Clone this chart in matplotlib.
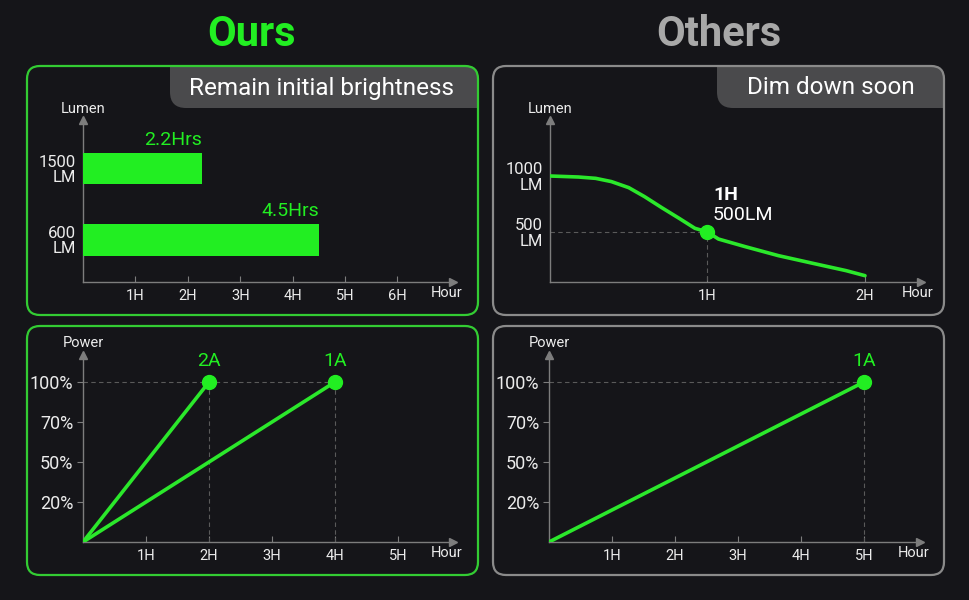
import matplotlib
matplotlib.use("Agg")
import matplotlib.pyplot as plt
import numpy as np
from matplotlib.patches import FancyBboxPatch

plt.rcParams['font.family'] = ['Roboto', 'DejaVu Sans']

# ---------------- data ----------------
titles = ['Ours', 'Others']
tab_texts = ['Remain initial brightness', 'Dim down soon']

bar_levels = ['600\nLM', '1500\nLM']
bar_hours = [4.5, 2.27]
bar_labels = ['4.5Hrs', '2.2Hrs']
tl_xticks = [1, 2, 3, 4, 5, 6]
tl_xticklabels = ['1H', '2H', '3H', '4H', '5H', '6H']

dim_hours = [0, 0.18, 0.29, 0.39, 0.50, 0.60, 0.71, 0.82, 0.92, 1.0,
             1.07, 1.24, 1.45, 1.67, 1.88, 2.0]
dim_lumens = [1000, 991, 979, 950, 896, 816, 717, 622, 533, 500,
              437, 369, 289, 220, 155, 110]
dim_yticks = [500, 1000]
dim_yticklabels = ['500\nLM', '1000\nLM']
dim_xticks = [1, 2]
dim_xticklabels = ['1H', '2H']
dim_point_hour = 1
dim_point_lumen = 500
dim_point_label = ['1H', '500LM']

power_ticks = [20, 50, 70, 100]
power_ticklabels = ['20%', '50%', '70%', '100%']
pw_xticks = [1, 2, 3, 4, 5]
pw_xticklabels = ['1H', '2H', '3H', '4H', '5H']
ours_currents = ['2A', '1A']
ours_full_hours = [2, 4]
others_currents = ['1A']
others_full_hours = [5]

# ---------------- style ----------------
BG = '#151519'
GREEN = '#22ee22'
LINE_GREEN = '#2be82b'
BORDER_GREEN = '#33cc33'
BORDER_GRAY = '#8a8a8a'
TAB = '#4a4a4c'
AX = '#7d7d7d'
TXT = '#ececec'
DASH = '#5a5a5a'

W, H = 970, 600
fig = plt.figure(figsize=(W / 100, H / 100), dpi=100, facecolor=BG)

bg = fig.add_axes([0, 0, 1, 1])
bg.set_xlim(0, W)
bg.set_ylim(H, 0)
bg.axis('off')
bg.set_zorder(0)

# titles
bg.text(252, 35, titles[0], color=GREEN, fontsize=30, fontweight='bold',
        ha='center', va='center')
bg.text(719, 35, titles[1], color='#a8a8a8', fontsize=30, fontweight='bold',
        ha='center', va='center')

panels = [
    (27, 66, 478, 315, BORDER_GREEN),
    (493, 66, 944, 315, BORDER_GRAY),
    (27, 326, 478, 575, BORDER_GREEN),
    (493, 326, 944, 575, BORDER_GRAY),
]
panel_patches = []
for (x0, y0, x1, y1, col) in panels:
    fill = FancyBboxPatch((x0, y0), x1 - x0, y1 - y0,
                          boxstyle='round,pad=0,rounding_size=13',
                          facecolor=BG, edgecolor='none', zorder=1)
    bg.add_patch(fill)
    panel_patches.append(fill)

# tabs
tabs = [(170, 0, tab_texts[0], 322), (717, 1, tab_texts[1], 831)]
for (tx0, pi, txt, cx) in tabs:
    x0, y0, x1, y1, col = panels[pi]
    tab = FancyBboxPatch((tx0, y0 - 30), x1 - tx0 + 30, 108 - (y0 - 30),
                         boxstyle='round,pad=0,rounding_size=16',
                         facecolor=TAB, edgecolor='none', zorder=2)
    bg.add_patch(tab)
    tab.set_clip_path(panel_patches[pi])
    bg.text(cx, 88, txt, color='white', fontsize=17.5, ha='center', va='center', zorder=3)

for (x0, y0, x1, y1, col) in panels:
    border = FancyBboxPatch((x0, y0), x1 - x0, y1 - y0,
                            boxstyle='round,pad=0,rounding_size=13',
                            facecolor='none', edgecolor=col, linewidth=1.6, zorder=4)
    bg.add_patch(border)


def add_ax(left, top, right, bottom):
    a = fig.add_axes([left / W, 1 - bottom / H, (right - left) / W, (bottom - top) / H])
    a.set_facecolor('none')
    a.set_zorder(5)
    for s in ['top', 'right']:
        a.spines[s].set_visible(False)
    for s in ['left', 'bottom']:
        a.spines[s].set_color(AX)
        a.spines[s].set_linewidth(1.0)
    a.plot(1, 0, marker='>', color=AX, ms=6, transform=a.transAxes, clip_on=False)
    a.plot(0, 1, marker='^', color=AX, ms=6, transform=a.transAxes, clip_on=False)
    a.tick_params(axis='x', direction='in', length=4, color=AX, labelcolor=TXT,
                  labelsize=10.5, pad=5)
    return a


# ---------- top-left: bars ----------
ax1 = add_ax(83, 120, 453, 282)
ax1.set_xlim(0, (453 - 83) / 52.4)
ax1.set_ylim(-0.589, 1.681)
ax1.barh([0, 1], bar_hours, height=0.44, color=GREEN, zorder=3)
ax1.set_xticks(tl_xticks)
ax1.set_xticklabels(tl_xticklabels)
ax1.set_yticks([0, 1])
ax1.set_yticklabels(bar_levels, fontsize=12, color=TXT, linespacing=1.0)
ax1.tick_params(axis='y', length=0, pad=5)
for i, (v, lab) in enumerate(zip(bar_hours, bar_labels)):
    ax1.annotate(lab, (v, i + 0.22), xytext=(0, 3), textcoords='offset points',
                 ha='right', va='bottom', color=GREEN, fontsize=14)
bg.text(83, 109, 'Lumen', color=TXT, fontsize=10.5, ha='center', va='center', zorder=6)
bg.text(447, 293, 'Hour', color=TXT, fontsize=10.5, ha='center', va='center', zorder=6)

# ---------- top-right: dimming curve ----------
ax2 = add_ax(550, 120, 921, 282)
ax2.set_xlim(0, (921 - 550) / 157.5)
lpp = 500 / 56.0
ax2.set_ylim((288 - 282) * lpp, (288 - 120) * lpp)
ax2.plot(dim_hours, dim_lumens, color=LINE_GREEN, lw=2.6, solid_capstyle='round',
         solid_joinstyle='round', zorder=3)
ax2.plot([0, dim_point_hour], [dim_point_lumen, dim_point_lumen], ls=(0, (4, 3)),
         color=DASH, lw=0.8, zorder=2)
ax2.plot([dim_point_hour, dim_point_hour], [0, dim_point_lumen], ls=(0, (4, 3)),
         color=DASH, lw=0.8, zorder=2)
ax2.plot([dim_point_hour], [dim_point_lumen], 'o', color=GREEN, ms=10, zorder=4)
ax2.text(1.035, 830, dim_point_label[0], color='white', fontsize=14, fontweight='bold',
         ha='left', va='center')
ax2.text(1.035, 652, dim_point_label[1], color='white', fontsize=14,
         ha='left', va='center')
ax2.set_xticks(dim_xticks)
ax2.set_xticklabels(dim_xticklabels)
ax2.set_yticks(dim_yticks)
ax2.set_yticklabels(dim_yticklabels, fontsize=12, color=TXT, linespacing=1.0)
ax2.tick_params(axis='y', length=0, pad=5)
bg.text(550, 109, 'Lumen', color=TXT, fontsize=10.5, ha='center', va='center', zorder=6)
bg.text(918, 293, 'Hour', color=TXT, fontsize=10.5, ha='center', va='center', zorder=6)

# power scale: evenly spaced tick levels
_pp = np.array([0, 20, 50, 70, 100, 130])
_pos = np.array([0, 1, 2, 3, 4, 5])


def fwd(v):
    return np.interp(v, _pp, _pos)


def inv(p):
    return np.interp(p, _pos, _pp)


def power_ax(left, right, currents, hours):
    a = add_ax(left, 355, right, 542)
    a.set_xlim(0, (right - left) / 63.0)
    a.set_yscale('function', functions=(fwd, inv))
    a.set_ylim(0, inv((542 - 355) / 40.0))
    a.plot([0, max(hours)], [100, 100], ls=(0, (4, 3)), color=DASH, lw=0.8, zorder=2)
    for c, h in zip(currents, hours):
        a.plot([h, h], [0, 100], ls=(0, (4, 3)), color=DASH, lw=0.8, zorder=2)
        a.plot([0, h], [0, 100], color=LINE_GREEN, lw=2.6, solid_capstyle='round', zorder=3)
        a.plot([h], [100], 'o', color=GREEN, ms=10, zorder=4)
        a.annotate(c, (h, 100), xytext=(0, 9), textcoords='offset points',
                   ha='center', va='bottom', color=GREEN, fontsize=14)
    a.set_xticks(pw_xticks)
    a.set_xticklabels(pw_xticklabels)
    a.set_yticks(power_ticks)
    a.set_yticklabels(power_ticklabels, fontsize=13, color=TXT)
    a.yaxis.set_minor_locator(matplotlib.ticker.NullLocator())
    a.tick_params(axis='y', direction='out', length=4, color=AX, pad=3)
    return a


ax3 = power_ax(83, 453, ours_currents, ours_full_hours)
ax4 = power_ax(549, 920, others_currents, others_full_hours)
bg.text(83, 343, 'Power', color=TXT, fontsize=10.5, ha='center', va='center', zorder=6)
bg.text(447, 553, 'Hour', color=TXT, fontsize=10.5, ha='center', va='center', zorder=6)
bg.text(549, 343, 'Power', color=TXT, fontsize=10.5, ha='center', va='center', zorder=6)
bg.text(914, 553, 'Hour', color=TXT, fontsize=10.5, ha='center', va='center', zorder=6)

fig.savefig('out.png', dpi=100, facecolor=BG)
